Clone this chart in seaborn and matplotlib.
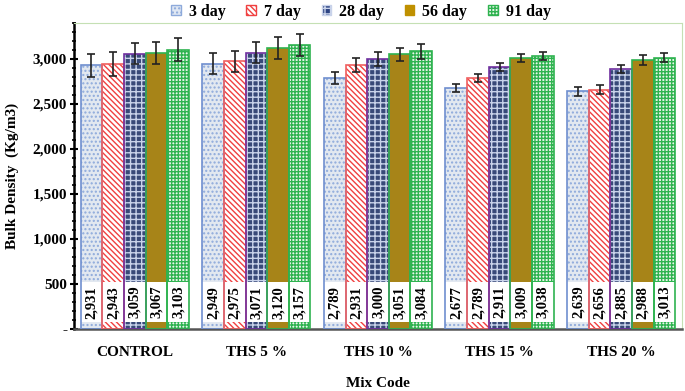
import numpy as np
import pandas as pd
import matplotlib
matplotlib.use("Agg")
from matplotlib import pyplot as plt
from matplotlib.patches import Rectangle, Patch
from matplotlib.ticker import FuncFormatter, MultipleLocator
import seaborn as sns

mixes = ["CONTROL", "THS 5 %", "THS 10 %", "THS 15 %", "THS 20 %"]
ages = ["3 day", "7 day", "28 day", "56 day", "91 day"]

d3 = [2931, 2949, 2789, 2677, 2639]
d7 = [2943, 2975, 2931, 2789, 2656]
d28 = [3059, 3071, 3000, 2911, 2885]
d56 = [3067, 3120, 3051, 3009, 2988]
d91 = [3103, 3157, 3084, 3038, 3013]

e3 = [130, 120, 70, 45, 55]
e7 = [130, 115, 80, 45, 50]
e28 = [120, 120, 80, 45, 45]
e56 = [125, 120, 75, 45, 55]
e91 = [125, 120, 80, 45, 50]

vals = [d3, d7, d28, d56, d91]
errs = [e3, e7, e28, e56, e91]

# style per age: face, hatch colour, hatch, frame colour
faces = ["#dfe7f3", "#ffffff", "#2d4483", "#bf9000", "#e8f7ea"]
hcols = ["#8eaadb", "#f04040", "#c9d3ea", "#bf9000", "#2fb350"]
hatches = ["....", "\\\\\\\\\\\\", "+++", "", "+++++"]
frames = ["#6f8fcf", "#f06060", "#7030a0", "#2fb350", "#2fb350"]

rows = []
for a, v in zip(ages, vals):
    for m, x in zip(mixes, v):
        rows.append({"Mix Code": m, "age": a, "val": x})
df = pd.DataFrame(rows)

plt.rcParams["font.family"] = ["Liberation Serif"]
plt.rcParams["font.weight"] = "bold"

fig = plt.figure(figsize=(6.85, 3.91), dpi=100)
ax = fig.add_axes([0.108, 0.1586, 0.8876, 0.7826])

sns.barplot(data=df, x="Mix Code", y="val", hue="age", hue_order=ages,
            palette=dict(zip(ages, faces)), width=0.89, errorbar=None,
            legend=False, ax=ax, zorder=2)

bar_conts = list(ax.containers)
for i, cont in enumerate(bar_conts):
    for j, p in enumerate(cont.patches):
        p.set_hatch(hatches[i])
        p.set_edgecolor(hcols[i])
        p.set_linewidth(0)
        x0, w, h = p.get_x(), p.get_width(), p.get_height()
        ax.add_patch(Rectangle((x0, 77), w, 443, fc="white", ec="none", zorder=2.5))
        ax.add_patch(Rectangle((x0, 0), w, h, fill=False, ec=frames[i], lw=1.2, zorder=3))
        cx = x0 + w / 2
        ax.errorbar(cx, h, yerr=errs[i][j], fmt="none", ecolor="#222222",
                    elinewidth=1.2, capsize=3, capthick=1.2, zorder=4)
        ax.text(cx, 298, f"{vals[i][j]:,}", rotation=90, ha="center", va="center",
                fontsize=10.5, fontweight="bold", zorder=5)

ax.set_ylim(0, 3400)
ax.set_xlim(-0.5, 4.5)
ax.yaxis.set_major_locator(MultipleLocator(500))
ax.yaxis.set_minor_locator(MultipleLocator(100))
ax.yaxis.set_major_formatter(FuncFormatter(lambda v, p: "-" if v == 0 else f"{v:,.0f}"))
ax.tick_params(axis="y", which="major", length=6, width=1.5, direction="inout", labelsize=11, pad=2)
ax.tick_params(axis="y", which="minor", length=3, width=1.2, direction="inout")
ax.tick_params(axis="x", length=0, labelsize=11, pad=12)

for s in ["top", "right"]:
    ax.spines[s].set_color("#c5e0b4")
    ax.spines[s].set_linewidth(0.8)
ax.spines["left"].set_color("black")
ax.spines["left"].set_linewidth(1.8)
ax.spines["bottom"].set_color("#555555")
ax.spines["bottom"].set_linewidth(1.8)

ax.set_ylabel("Bulk Density  (Kg/m3)", fontsize=11, fontweight="bold", labelpad=10)
ax.set_xlabel("Mix Code", fontsize=11, fontweight="bold", labelpad=13)

handles = [Patch(facecolor=faces[i], edgecolor=hcols[i], hatch=hatches[i], lw=1) for i in range(5)]
leg = fig.legend(handles, ages, loc="upper center", bbox_to_anchor=(0.527, 1.027), ncol=5,
                 frameon=False, fontsize=11.5, handlelength=0.6, handleheight=0.6,
                 columnspacing=1.3, handletextpad=0.5)
for t in leg.get_texts():
    t.set_fontweight("bold")

fig.savefig("out.png", dpi=100)
